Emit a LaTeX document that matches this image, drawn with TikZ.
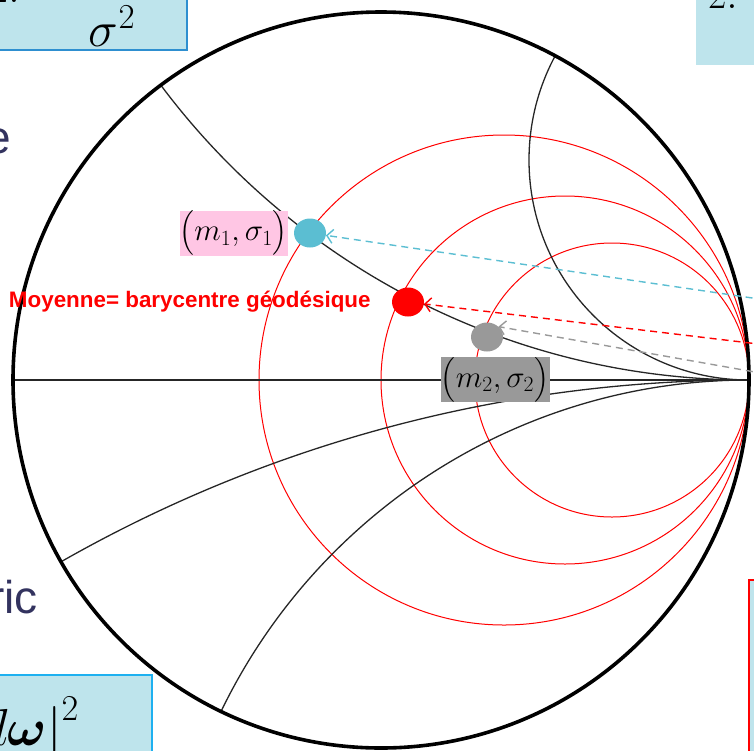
\RequirePackage{fix-cm}
\documentclass[tikz,border=0pt]{standalone}
\usepackage{amsmath}
\usepackage{fontspec}
\setmainfont{Liberation Sans}
\usetikzlibrary{positioning,arrows.meta,shapes.geometric}

\definecolor{slideblue}{RGB}{190,228,236}
\definecolor{boxline}{RGB}{46,143,208}
\definecolor{boxcyan}{RGB}{30,176,240}
\definecolor{dotcyan}{RGB}{91,190,210}
\definecolor{dotgray}{RGB}{153,153,153}
\definecolor{labelpink}{RGB}{255,198,228}
\definecolor{navytext}{RGB}{51,51,95}

\begin{document}
\begin{tikzpicture}[
    x=1pt, y=-1pt,
    font=\fontsize{31}{34}\selectfont,
    % curves of the disk
    rim/.style={line width=3.6pt},
    diameter/.style={line width=1.8pt, black!85},
    geodesic/.style={line width=1.3pt, black!85},
    horocycle/.style={line width=1pt, red},
    % points and their labels
    dot/.style={ellipse, minimum width=32pt, minimum height=29pt, inner sep=0pt},
    pointlabel/.style={minimum height=45pt, inner sep=0pt},
    pointer/.style={line width=1.4pt, dash pattern=on 7pt off 5pt, -{Straight Barb[length=6pt,width=14pt]}},
    % cut slide pieces
    slidebox/.style={fill=slideblue, line width=1.2pt},
    slidetext/.style={text=navytext, inner sep=0pt, font=\fontsize{46}{50}\selectfont},
]
    \useasboundingbox (0,0) rectangle (754,750);

    % slide pieces round the disk
    \draw[slidebox, draw=boxline] (-5,-5) rectangle (187,50);
    \node[anchor=base west, inner sep=0pt, font=\fontsize{40}{44}\selectfont] (topleft) at (-10,2) {$2.$};
    \node[inner sep=0pt, font=\fontsize{50}{54}\selectfont] (sigmasq) at (112,26) {$\sigma^2$};
    \fill[slidebox] (696,-5) rectangle (760,65);
    \node[anchor=base west, inner sep=0pt, font=\fontsize{40}{44}\selectfont] (topright) at (708,8) {$2.$};
    \draw[slidebox, draw=boxcyan] (-5,675) rectangle (152,760);
    \node[anchor=base east, inner sep=0pt, font=\fontsize{52}{56}\selectfont] (omega) at (79,745) {$\left|d\boldsymbol{\omega}\right|^2$};
    \draw[slidebox, draw=red, line width=2pt] (749,580) rectangle (762,760);
    \node[slidetext, anchor=base east] (wordend) at (11,153) {e};
    \node[slidetext, anchor=base east] (metric) at (38,613) {ric};

    % horocycles tangent at the right end
    \foreach \r in {245,184,137}
        \draw[horocycle] (749-\r,380) circle (\r pt);

    % geodesics ending at the same ideal point
    \begin{scope}
        \clip (381,380) circle (368pt);
        \draw[geodesic] (749,-354) circle (734pt);
        \draw[geodesic] (749,160) circle (220pt);
        \draw[geodesic] (749,1771) circle (1391pt);
        \draw[geodesic] (749,966) circle (586pt);
    \end{scope}
    \draw[diameter] (13,380) -- (749,380);
    \draw[rim] (381,380) circle (368pt);

    % the two points and their mean
    \node[dot, fill=dotcyan] (m1dot) at (310,233) {};
    \node[dot, fill=red] (meandot) at (408,302) {};
    \node[dot, fill=dotgray] (m2dot) at (487,337) {};

    \node[pointlabel, fill=labelpink, minimum width=102pt, left=6pt of m1dot] (m1label) {$\bigl(m_1,\sigma_1\bigr)$};
    \node[pointlabel, fill=dotgray, minimum width=109pt, below=5pt of m2dot, xshift=8pt] (m2label) {$\bigl(m_2,\sigma_2\bigr)$};
    \node[text=red, inner sep=0pt, font=\bfseries\fontsize{22.4}{26}\selectfont, left=21pt of meandot] (meanlabel) {Moyenne= barycentre géodésique};

    % pointers coming in from the right
    \coordinate (cyanfrom) at (800,305);
    \coordinate (redfrom) at (800,349);
    \coordinate (grayfrom) at (800,380);
    \draw[pointer, dotcyan] (cyanfrom) -- (m1dot);
    \draw[pointer, red] (redfrom) -- (meandot);
    \draw[pointer, dotgray] (grayfrom) -- (m2dot.north east);

\end{tikzpicture}
\end{document}
